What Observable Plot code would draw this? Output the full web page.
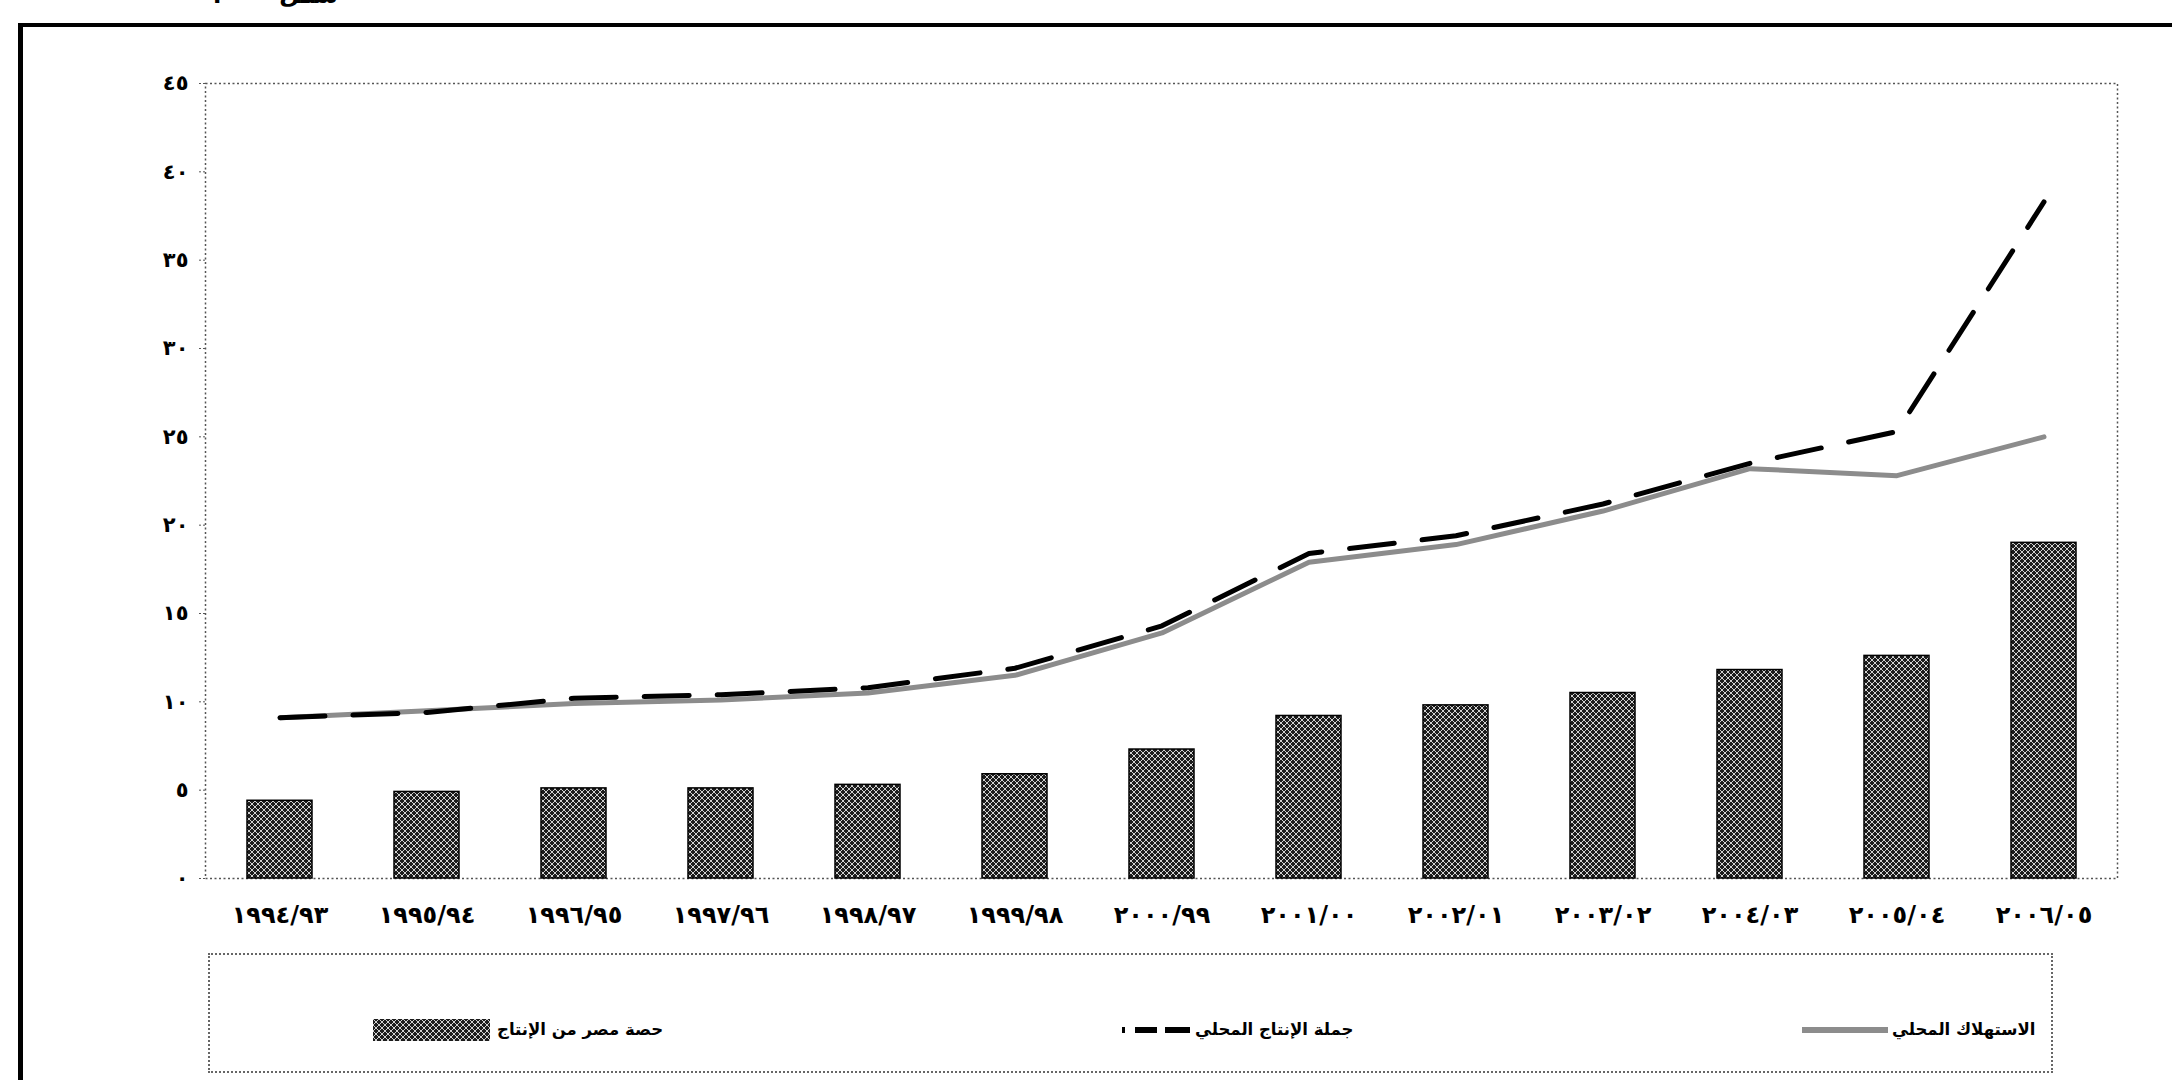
<!DOCTYPE html>
<html lang="ar">
<head>
<meta charset="utf-8">
<script src="https://cdn.jsdelivr.net/npm/d3@7"></script>
<script src="https://cdn.jsdelivr.net/npm/@observablehq/plot@0.6"></script>
<style>
  html, body { margin: 0; padding: 0; background: #fff; }
  #page { position: relative; width: 2172px; height: 1080px; overflow: hidden; font-family: "DejaVu Sans", sans-serif; }
  #frame { position: absolute; left: 18px; top: 23px; width: 2300px; height: 1200px; border-left: 5px solid #000; border-top: 4px solid #000; }
  #chart { position: absolute; left: 0; top: 0; }
  #chart g[aria-label="x-axis tick label"] text { letter-spacing: 2.5px; }
  #caption { position: absolute; left: 212px; top: -19px; font-size: 24px; font-weight: bold; direction: rtl; word-spacing: 44px; white-space: nowrap; }
  #legend { position: absolute; left: 208px; top: 953px; width: 1845px; height: 120px; border: 2px dotted #666; box-sizing: border-box; }
  .li { position: absolute; top: 75px; transform: translateY(-50%); }
  .lt { font-size: 16.5px; font-weight: bold; direction: rtl; white-space: nowrap; line-height: 1; }
</style>
</head>
<body>
<div id="page">
  <div id="caption">شكل ٢</div>
  <div id="frame"></div>
  <div id="chart"></div>
  <div id="legend"></div>
</div>
<script>
// Seasons (fiscal years) on the x axis
const categories = ["١٩٩٤/٩٣","١٩٩٥/٩٤","١٩٩٦/٩٥","١٩٩٧/٩٦","١٩٩٨/٩٧","١٩٩٩/٩٨","٢٠٠٠/٩٩","٢٠٠١/٠٠","٢٠٠٢/٠١","٢٠٠٣/٠٢","٢٠٠٤/٠٣","٢٠٠٥/٠٤","٢٠٠٦/٠٥"];

// Egypt's share of production (bars)
const shareEgypt = [4.4, 4.9, 5.1, 5.1, 5.3, 5.9, 7.3, 9.2, 9.8, 10.5, 11.8, 12.6, 19.0];
// Total local production (dashed line)
const production = [9.1, 9.4, 10.2, 10.4, 10.8, 11.9, 14.3, 18.4, 19.4, 21.2, 23.5, 25.3, 38.3];
// Local consumption (solid grey line)
const consumption = [9.1, 9.5, 9.9, 10.1, 10.5, 11.5, 13.9, 17.9, 18.9, 20.8, 23.2, 22.8, 25.0];

// Y axis ticks and their Arabic-Indic labels
const yTicks = [0, 5, 10, 15, 20, 25, 30, 35, 40, 45];
const yTickLabels = ["٠","٥","١٠","١٥","٢٠","٢٥","٣٠","٣٥","٤٠","٤٥"];

// Legend entries
const legendLabels = ["حصة مصر من الإنتاج", "جملة الإنتاج المحلي", "الاستهلاك المحلي"];

const data = categories.map((c, i) => ({
  cat: c, share: shareEgypt[i], prod: production[i], cons: consumption[i]
}));

// Cross-hatch fill for the bars
function hatchDefs() {
  const defs = d3.create("svg:defs");
  const p = defs.append("pattern")
    .attr("id", "hatch").attr("width", 6).attr("height", 6)
    .attr("patternUnits", "userSpaceOnUse");
  p.append("rect").attr("width", 6).attr("height", 6).attr("fill", "#1c1c1c");
  p.append("path").attr("d", "M0,0L6,6M6,0L0,6").attr("stroke", "#d0d0d0").attr("stroke-width", 1);
  return defs.node();
}

const chart = Plot.plot({
  width: 2172,
  height: 950,
  marginLeft: 205,
  marginRight: 55,
  marginTop: 83,
  marginBottom: 72,
  style: { fontFamily: "DejaVu Sans", fontSize: "24px", fontWeight: "bold", color: "#000", background: "transparent" },
  x: { domain: categories, paddingInner: 0.56, paddingOuter: 0.28, label: null },
  y: { domain: [0, 45], label: null },
  marks: [
    () => hatchDefs(),
    Plot.frame({ stroke: "#555", strokeWidth: 1.5, strokeDasharray: "2,2.5" }),
    Plot.axisY({
      ticks: yTicks,
      tickFormat: d => yTickLabels[yTicks.indexOf(d)],
      tickSize: 8, tickPadding: 9, fontSize: 21,
      stroke: "#555", strokeDasharray: "2,2", label: null
    }),
    Plot.axisX({ tickSize: 0, tickPadding: 27, label: null }),
    Plot.barY(data, { x: "cat", y: "share", fill: "url(#hatch)", stroke: "#000", strokeWidth: 1.5 }),
    Plot.lineY(data, { x: "cat", y: "cons", stroke: "#8c8c8c", strokeWidth: 5 }),
    Plot.lineY(data, { x: "cat", y: "prod", stroke: "#000", strokeWidth: 5, strokeDasharray: "45,28" })
  ]
});
document.getElementById("chart").appendChild(chart);

// Legend: each key sits to the left of its label
const legend = d3.select("#legend");
function swatch(left, w, h, draw) {
  const s = legend.append("svg").attr("class", "li")
    .style("left", left + "px").attr("width", w).attr("height", h);
  draw(s, w, h);
}
function label(left, text) {
  legend.append("div").attr("class", "li lt").style("left", left + "px").text(text);
}
swatch(163, 117, 22, (s, w, h) => s.append("rect").attr("width", w).attr("height", h).attr("fill", "url(#hatch)"));
label(287, legendLabels[0]);
swatch(912, 68, 8, (s, w, h) => s.append("line").attr("x1", 0).attr("x2", w).attr("y1", h / 2).attr("y2", h / 2)
  .attr("stroke", "#000").attr("stroke-width", 6).attr("stroke-dasharray", "3,10,22,8,25"));
label(985, legendLabels[1]);
swatch(1592, 86, 8, (s, w, h) => s.append("line").attr("x1", 0).attr("x2", w).attr("y1", h / 2).attr("y2", h / 2)
  .attr("stroke", "#8c8c8c").attr("stroke-width", 6));
label(1682, legendLabels[2]);
</script>
</body>
</html>
